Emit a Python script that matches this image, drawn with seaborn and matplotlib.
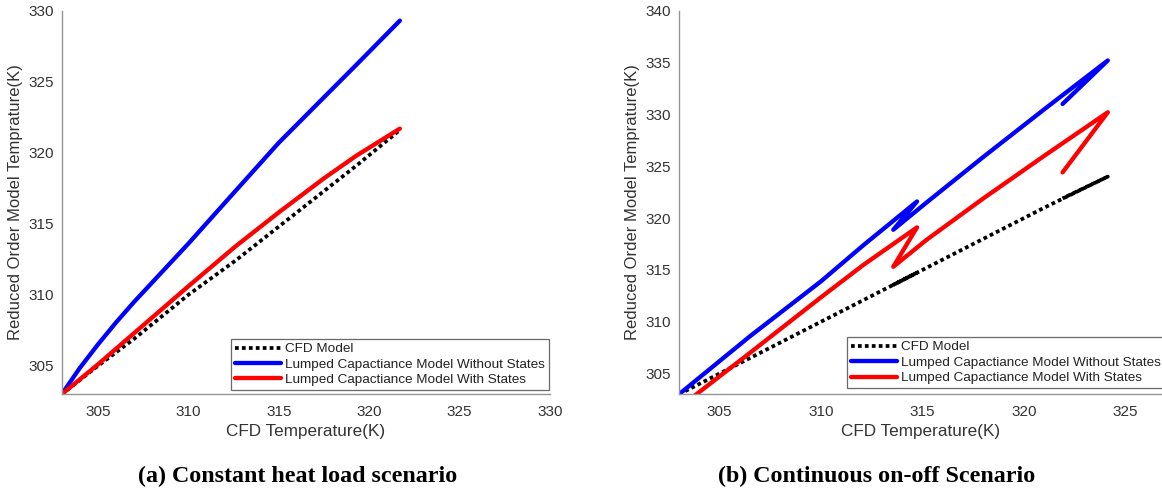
import numpy as np
import pandas as pd
import seaborn as sns
import matplotlib.pyplot as plt

# ---- data ----
# (a) constant heat load
cfd_a = [303, 304, 305, 306, 307, 310, 312.6, 315, 317.5, 319.3, 321.7]
cfd_model_a = [303, 304, 305, 305.95, 306.9, 310.0, 312.4, 314.8, 317.3, 319.1, 321.6]
no_states_a = [303, 304.85, 306.5, 308.05, 309.5, 313.6, 317.3, 320.7, 323.9, 326.2, 329.3]
with_states_a = [303, 304.05, 305.1, 306.2, 307.3, 310.6, 313.4, 315.8, 318.2, 319.8, 321.7]

# (b) continuous on-off (trajectory, x goes back on cooling)
cfd_b = [303, 306.5, 310, 312.1, 314.73, 313.56, 315.2, 318.0, 321.07, 324.13, 321.9]
cfd_model_b = [303, 306.5, 310, 312.1, 314.73, 313.56, 315.2, 318.0, 321.07, 324.0, 321.9]
no_states_b = [303, 308.6, 313.9, 317.4, 321.6, 318.87, 321.5, 325.9, 330.6, 335.2, 331.0]
with_states_b = [301.7, 307.0, 312.36, 315.5, 319.1, 315.3, 317.9, 321.9, 326.1, 330.2, 324.4]

labels = ["CFD Model", "Lumped Capactiance Model Without States",
          "Lumped Capactiance Model With States"]
colors = ["black", "#0000ff", "#ff0000"]

sns.set_style("white")
plt.rcParams['font.family'] = ['Liberation Sans', 'DejaVu Sans']
TXT = '#333333'
SPINE = '#959595'

fig = plt.figure(figsize=(11.62, 4.93), dpi=100)
ax1 = fig.add_axes([0.0531, 0.2002, 0.4202, 0.7781])
ax2 = fig.add_axes([0.5843, 0.2002, 0.4157, 0.7781])


def draw(ax, x, ys):
    for y, lab, col in zip(ys, labels, colors):
        df = pd.DataFrame({'cfd': x, 'rom': y})
        if lab == "CFD Model":
            sns.lineplot(data=df, x='cfd', y='rom', sort=False, estimator=None,
                         ax=ax, color=col, lw=2.7, label=lab,
                         linestyle=(0, (1, 0.85)), dash_capstyle='butt')
        else:
            sns.lineplot(data=df, x='cfd', y='rom', sort=False, estimator=None,
                         ax=ax, color=col, lw=3.1, label=lab,
                         solid_capstyle='round', solid_joinstyle='round')
    for s in ['top', 'right']:
        ax.spines[s].set_visible(False)
    for s in ['left', 'bottom']:
        ax.spines[s].set_color(SPINE)
        ax.spines[s].set_linewidth(1.0)
    ax.tick_params(direction='in', length=4, width=0.8, color=SPINE,
                   labelsize=11, labelcolor=TXT)
    ax.tick_params(axis='x', pad=8)
    ax.tick_params(axis='y', pad=5.5)
    ax.set_xlabel("CFD Temperature(K)", fontsize=12.3, color=TXT, labelpad=3)
    ax.set_ylabel("Reduced Order Model Temprature(K)", fontsize=12, color=TXT, labelpad=4)
    leg = ax.legend(fontsize=9.7, handlelength=3.4, handletextpad=0.3,
                    borderpad=0.3, labelspacing=0.22, frameon=True,
                    fancybox=False, borderaxespad=0)
    leg.get_frame().set_edgecolor('#444444')
    leg.get_frame().set_linewidth(0.9)
    for t in leg.get_texts():
        t.set_color('#222222')
    return leg


leg1 = draw(ax1, cfd_a, [cfd_model_a, no_states_a, with_states_a])
ax1.set_xlim(303, 330)
ax1.set_ylim(303, 330)
ax1.set_xticks([305, 310, 315, 320, 325, 330])
ax1.set_yticks([305, 310, 315, 320, 325, 330])
leg1.set_loc('lower right')
leg1.set_bbox_to_anchor((0.997, 0.011), transform=ax1.transAxes)

leg2 = draw(ax2, cfd_b, [cfd_model_b, no_states_b, with_states_b])
ax2.set_xlim(303, 326.8)
ax2.set_ylim(303, 340)
ax2.set_xticks([305, 310, 315, 320, 325])
ax2.set_yticks([305, 310, 315, 320, 325, 330, 335, 340])
leg2.set_loc('lower left')
leg2.set_bbox_to_anchor((0.348, 0.0156), transform=ax2.transAxes)

cap_font = dict(fontsize=17.3, fontweight='bold', family=['Liberation Serif', 'DejaVu Serif'],
                ha='center', va='center', color='black')
fig.text(297.5 / 1162, 1 - 476.7 / 493, "(a) Constant heat load scenario", **cap_font)
fig.text(877 / 1162, 1 - 476.7 / 493, "(b) Continuous on-off Scenario", **cap_font)

fig.savefig("out.png", dpi=100)
